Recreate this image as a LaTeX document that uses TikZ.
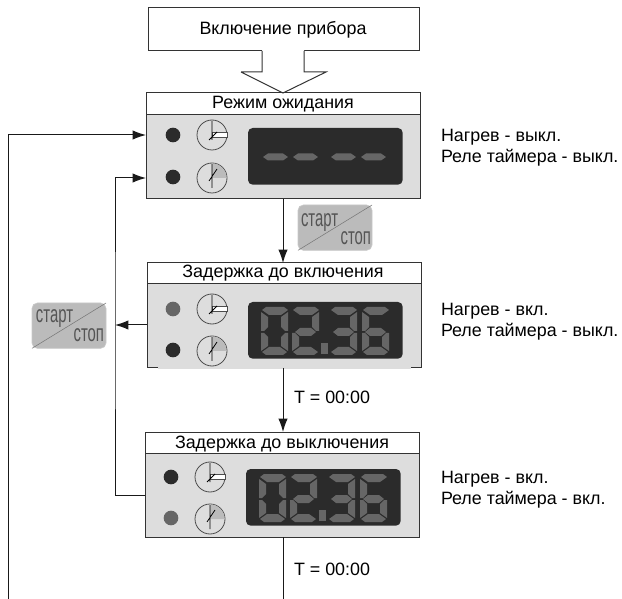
\documentclass[tikz,border=0pt]{standalone}
\usepackage{fontspec}
\setmainfont{Liberation Sans}
\usetikzlibrary{arrows.meta}
\definecolor{panelgray}{HTML}{DDDDDD}
\definecolor{dispdark}{HTML}{2B2B2B}
\definecolor{segon}{HTML}{666666}
\definecolor{btn}{HTML}{BBBBBB}
\definecolor{btntxt}{HTML}{555555}
\newcommand\SegA{\fill[segon] (5,0)--(23,0)--(27,3)--(20,8)--(8,8)--(1,3)--cycle;}
\newcommand\SegB{\fill[segon] (27,5)--(20,10)--(20,20)--(24,24)--(27,24)--cycle;}
\newcommand\SegC{\fill[segon] (27,26)--(24,26)--(20,30)--(20,39)--(27,44)--cycle;}
\newcommand\SegD{\fill[segon] (1,45)--(8,40)--(19,40)--(26,45)--(22,48)--(5,48)--cycle;}
\newcommand\SegE{\fill[segon] (0,26)--(3,26)--(7,30)--(7,39)--(0,44)--cycle;}
\newcommand\SegF{\fill[segon] (0,5)--(7,10)--(7,20)--(3,24)--(0,24)--cycle;}
\newcommand\SegG{\fill[segon] (3,25)--(8,21)--(19,21)--(24,25)--(19,29)--(8,29)--cycle;}
\newcommand\BtnText[1]{\scalebox{0.62}[1]{#1}}
\tikzset{
  x=0.75pt,y=-0.75pt,
  every node/.style={font=\fontsize{13.4pt}{15.75pt}\selectfont,inner sep=0pt,outer sep=0pt},
  titlebox/.style={draw=black!80,fill=white,line width=0.75pt},
  panelbody/.style={draw=black!80,fill=panelgray,line width=0.75pt},
  flow/.style={line width=0.75pt,draw=black!90,-{Latex[length=10pt,width=7pt]}},
  plainflow/.style={line width=0.75pt,draw=black!90},
  disp/.style={fill=dispdark,rounded corners=3.5pt},
  ledon/.style={circle,fill=segon,minimum size=11pt},
  ledoff/.style={circle,fill=dispdark,minimum size=11pt},
  info/.style={anchor=west,align=left},
  btnbox/.style={fill=btn,draw=btn!80!white,rounded corners=4pt,line width=0.5pt},
  btnlab/.style={text=btntxt,font=\fontsize{18pt}{18pt}\selectfont},
  clockup/.pic={
    \draw[black!70,fill=panelgray,line width=0.6pt] (0,0) circle[radius=15];
    \draw[fill=white,draw=black!70,line width=0.5pt] (0,-2.5) rectangle (15,2);
    \draw[black,line width=0.6pt] (0,-14)--(0,5) (-3,5)--(5,-3);
  },
  clockdown/.pic={
    \draw[black!70,fill=panelgray,line width=0.6pt] (0,0) circle[radius=15];
    \fill[btn] (0,0)--(14.6,0) arc[start angle=0,end angle=-90,radius=14.6]--cycle;
    \draw[black,line width=0.6pt] (0,-14)--(0,10) (-3,3)--(5,-9);
  },
  digitzero/.pic={\SegA\SegB\SegC\SegD\SegE\SegF},
  digittwo/.pic={\SegA\SegB\SegD\SegE\SegG},
  digitthree/.pic={\SegA\SegB\SegC\SegD\SegG},
  digitsix/.pic={\SegA\SegC\SegD\SegE\SegF\SegG},
  digitdot/.pic={\fill[segon] (0,0) rectangle (7,11);},
  dashseg/.pic={\fill[segon] (0,3.5)--(5,0)--(20,0)--(25,3.5)--(20,7)--(5,7)--cycle;},
  timeread/.pic={
    \pic at (13,5) {digitzero};
    \pic at (44,5) {digittwo};
    \pic at (73,41) {digitdot};
    \pic at (82,5) {digitthree};
    \pic at (114,5) {digitsix};
  }
}
\begin{document}
\begin{tikzpicture}
\useasboundingbox (0,0) rectangle (622,599);
% top box
\node[titlebox,minimum width=203.25pt,minimum height=32pt,anchor=north west] (top) at (148,8) {};
\node[anchor=base] (toptext) at (283,35) {Включение прибора};
% block arrow
\fill[white] (262,49)--(262,72)--(241,72)--(283,93)--(326,72)--(304,72)--(304,49)--cycle;
% panels
\node[titlebox,anchor=north west,minimum width=206pt,minimum height=16.5pt] (p1t) at (146,93) {};
\node[panelbody,anchor=north west,minimum width=206pt,minimum height=63pt] (p1) at (146,115) {};
\node[anchor=base] (p1text) at (283,109) {Режим ожидания};
\node[titlebox,anchor=north west,minimum width=205.5pt,minimum height=16pt] (p2t) at (147,263) {};
\node[panelbody,anchor=north west,minimum width=205.5pt,minimum height=63pt] (p2) at (147,284) {};
\draw[panelgray,line width=1pt] (158,368)--(411,368);
\node[anchor=base] (p2text) at (283,278) {Задержка до включения};
\node[titlebox,anchor=north west,minimum width=205.5pt,minimum height=16pt] (p3t) at (145,432) {};
\node[panelbody,anchor=north west,minimum width=205.5pt,minimum height=63pt] (p3) at (145,453) {};
\node[anchor=base] (p3text) at (282,448) {Задержка до выключения};
\draw[black!80,line width=0.75pt] (241,72)--(283,93)--(326,72)--(304,72)--(304,51) (262,51)--(262,72)--(241,72);
% panel 1 contents
\node[ledoff] (l1a) at (173,135) {};
\node[ledoff] (l1b) at (173,177) {};
\pic at (212,135) {clockup};
\pic at (212,178) {clockdown};
\node[disp,anchor=north west,minimum width=116pt,minimum height=42.5pt] (d1) at (248,128) {};
\pic at (263,153.5) {dashseg};
\pic at (293,153.5) {dashseg};
\pic at (331,153.5) {dashseg};
\pic at (361,153.5) {dashseg};
% panel 2 contents
\node[ledon] (l2a) at (173,309) {};
\node[ledoff] (l2b) at (173,350) {};
\pic at (212,309) {clockup};
\pic at (212,351) {clockdown};
\node[disp,anchor=north west,minimum width=116pt,minimum height=42.5pt] (d2) at (248,302) {};
\pic at (248,302) {timeread};
% panel 3 contents
\node[ledoff] (l3a) at (171,477) {};
\node[ledon] (l3b) at (171,518) {};
\pic at (210,477) {clockup};
\pic at (210,519) {clockdown};
\node[disp,anchor=north west,minimum width=116pt,minimum height=42.5pt] (d3) at (246,469) {};
\pic at (246,469) {timeread};
% buttons
\node[btnbox,anchor=north west,minimum width=55.5pt,minimum height=34pt] (b1) at (298,205) {};
\draw[btntxt!80!white,line width=0.4pt] (b1.south west)--(b1.north east);
\node[btnlab,anchor=base west] (b1a) at (301,227) {\BtnText{старт}};
\node[btnlab,anchor=base east] (b1b) at (371,245) {\BtnText{стоп}};
\node[btnbox,anchor=north west,minimum width=55.5pt,minimum height=34pt] (b2) at (32,303) {};
\draw[btntxt!80!white,line width=0.4pt] (b2.south west)--(b2.north east);
\node[btnlab,anchor=base west] (b2a) at (36,323) {\BtnText{старт}};
\node[btnlab,anchor=base east] (b2b) at (104,342) {\BtnText{стоп}};
% info
\node[info] (i1) at (441,148) {Нагрев - выкл.\\Реле таймера - выкл.};
\node[info] (i2) at (441,322) {Нагрев - вкл.\\Реле таймера - выкл.};
\node[info] (i3) at (441,490) {Нагрев - вкл.\\Реле таймера - вкл.};
\node[anchor=base west] (t1) at (294,403) {T = 00:00};
\node[anchor=base west] (t2) at (294,575) {T = 00:00};
% connectors
\coordinate (outerend) at (8,599);
\coordinate (downend) at (283,599);
\coordinate (p1ina) at (146,135);
\coordinate (p1inb) at (146,178);
\coordinate (p2out) at (147,325);
\coordinate (branch) at (115,325);
\coordinate (p3out) at (145,495);
\coordinate (p1down) at (283,199);
\coordinate (p2up) at (283,263);
\coordinate (p2down) at (283,368);
\coordinate (p3up) at (283,432);
\coordinate (p3down) at (283,537);
\draw[flow] (outerend)|-(p1ina);
\draw[flow] (p3out)-|(branch)|-(p1inb);
\draw[flow] (p2out)--(branch);
\draw[flow] (p1down)--(p2up);
\draw[flow] (p2down)--(p3up);
\draw[plainflow] (p3down)--(downend);
\end{tikzpicture}
\end{document}
